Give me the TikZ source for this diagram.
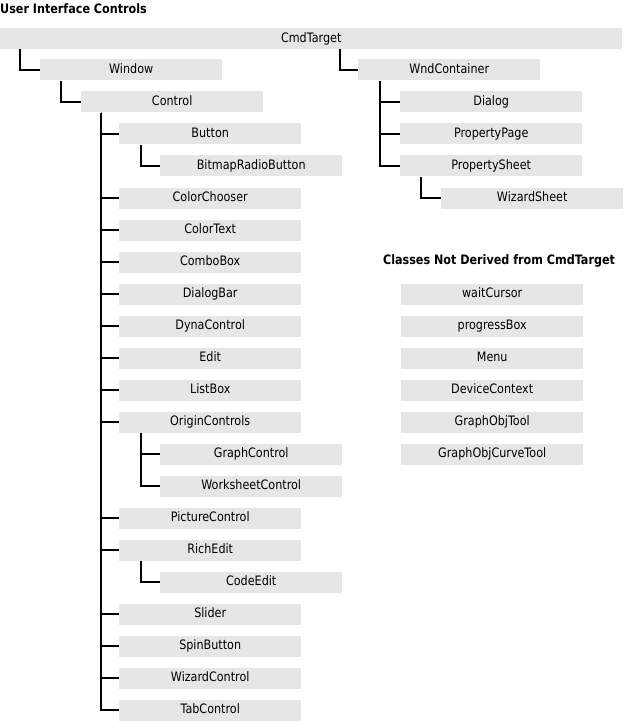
\documentclass[tikz,border=0pt]{standalone}
\usepackage{fontspec}
\setmainfont{DejaVu Sans}[FakeStretch=0.86]
\usetikzlibrary{calc,positioning}
\definecolor{boxGray}{RGB}{230,230,230}
\definecolor{treeBlack}{RGB}{0,0,0}

\tikzset{
    cls/.style={fill=boxGray, anchor=west, minimum width=182pt, minimum height=21pt,
        inner sep=0pt, text height=1.6ex, text depth=.3ex, font=\fontsize{13}{14}\selectfont},
    tree/.style={draw=treeBlack, line width=1.7pt},
    heading/.style={font=\bfseries\fontsize{13}{14}\selectfont, inner sep=0pt}
}

\begin{document}
\begin{tikzpicture}[x=1pt,y=-1pt]
    \useasboundingbox (0,0) rectangle (624,722);

    % titles
    \node[heading, anchor=west] (uictl) at (0,9) {User Interface Controls};
    \node[heading] (notcmd) at (499,261) {Classes Not Derived from CmdTarget};

    % derived from CmdTarget
    \node[cls, minimum width=622pt] (cmd) at (0,38.5) {CmdTarget};
    \node[cls] (win) at (40,70) {Window};
    \node[cls] (ctrl) at (81,102) {Control};
    \node[cls] (btn) at (119,134) {Button};
    \node[cls] (bmprb) at (160,166) {BitmapRadioButton};
    \node[cls] (cchoose) at (119,198) {ColorChooser};
    \node[cls] (ctext) at (119,230) {ColorText};
    \node[cls] (combo) at (119,262) {ComboBox};
    \node[cls] (dbar) at (119,294) {DialogBar};
    \node[cls] (dyna) at (119,326) {DynaControl};
    \node[cls] (edit) at (119,358) {Edit};
    \node[cls] (lbox) at (119,390) {ListBox};
    \node[cls] (orig) at (119,422) {OriginControls};
    \node[cls] (gctrl) at (160,454) {GraphControl};
    \node[cls] (wksctrl) at (160,486) {WorksheetControl};
    \node[cls] (pict) at (119,518) {PictureControl};
    \node[cls] (redit) at (119,550) {RichEdit};
    \node[cls] (cedit) at (160,582) {CodeEdit};
    \node[cls] (slider) at (119,614) {Slider};
    \node[cls] (spin) at (119,646) {SpinButton};
    \node[cls] (wizctrl) at (119,678) {WizardControl};
    \node[cls] (tab) at (119,710) {TabControl};

    \node[cls] (wndc) at (358,70) {WndContainer};
    \node[cls] (dlg) at (400,102) {Dialog};
    \node[cls] (ppage) at (400,134) {PropertyPage};
    \node[cls] (psheet) at (400,166) {PropertySheet};
    \node[cls] (wizsheet) at (441,198) {WizardSheet};

    % not derived
    \node[cls] (wcur) at (401,294) {waitCursor};
    \node[cls] (pbox) at (401,326) {progressBox};
    \node[cls] (menu) at (401,358) {Menu};
    \node[cls] (devctx) at (401,390) {DeviceContext};
    \node[cls] (gotool) at (401,422) {GraphObjTool};
    \node[cls] (gocurve) at (401,454) {GraphObjCurveTool};

    % tree lines
    \draw[tree] ([xshift=20pt]cmd.south west) |- (win.west);
    \draw[tree] ([xshift=-18pt]wndc.west |- cmd.south) |- (wndc.west);
    \draw[tree] ([xshift=21pt]win.south west) |- (ctrl.west);
    \foreach \kid in {btn,cchoose,ctext,combo,dbar,dyna,edit,lbox,orig,pict,redit,slider,spin,wizctrl,tab}
        \draw[tree] ([xshift=20pt]ctrl.south west) |- (\kid.west);
    \draw[tree] ([xshift=22pt]btn.south west) |- (bmprb.west);
    \draw[tree] ([xshift=22pt]orig.south west) |- (gctrl.west);
    \draw[tree] ([xshift=22pt]orig.south west) |- (wksctrl.west);
    \draw[tree] ([xshift=22pt]redit.south west) |- (cedit.west);
    \foreach \kid in {dlg,ppage,psheet}
        \draw[tree] ([xshift=22pt]wndc.south west) |- (\kid.west);
    \draw[tree] ([xshift=21pt]psheet.south west) |- (wizsheet.west);
\end{tikzpicture}
\end{document}
